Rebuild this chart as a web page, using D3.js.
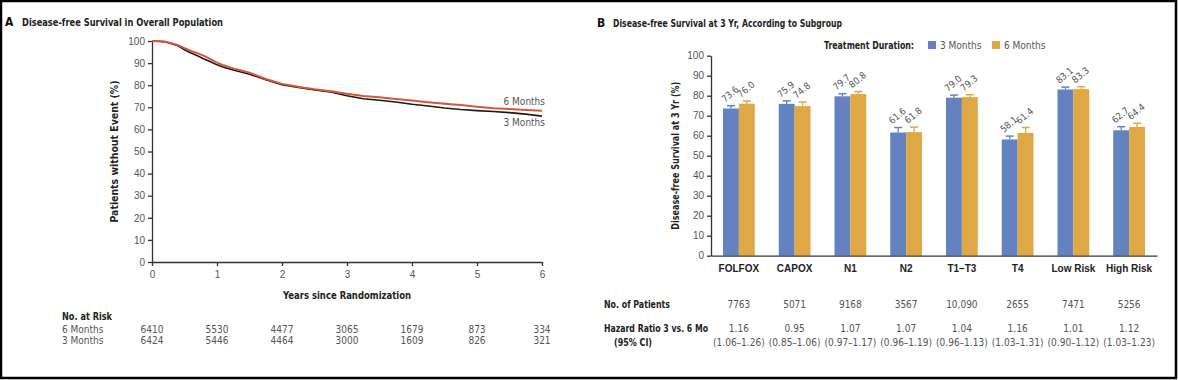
<!DOCTYPE html>
<html>
<head>
<meta charset="utf-8">
<script src="https://cdn.jsdelivr.net/npm/d3@7"></script>
<style>
  body { margin: 0; background: #fff; }
  svg { display: block; font-family: "Liberation Sans Narrow", "DejaVu Sans Condensed", "Liberation Sans", sans-serif; }
  .lbl { fill: #555; font-size: 10px; }
  .bold { fill: #222; font-weight: bold; font-size: 10px; }
  .tick text { fill: #555; font-size: 10px; }
  .domain, .tick line { stroke: #333; stroke-width: 1.3; }
</style>
</head>
<body>
<script>
// panel A : Kaplan-Meier
var kmYears = [0, 0.1, 0.2, 0.3, 0.4, 0.5, 0.6, 0.7, 0.8, 0.9, 1.0, 1.1, 1.25, 1.5, 1.75, 2.0, 2.25, 2.5, 2.75, 3.0, 3.25, 3.5, 3.75, 4.0, 4.25, 4.5, 4.75, 5.0, 5.25, 5.5, 5.75, 6.0];
var sixMonths = [100, 99.9, 99.6, 99.0, 98.1, 96.8, 95.5, 94.5, 93.3, 91.8, 90.2, 89.0, 87.6, 85.6, 82.8, 80.6, 79.3, 78.2, 77.3, 76.1, 75.1, 74.5, 73.8, 73.1, 72.3, 71.6, 71.0, 70.3, 69.6, 69.2, 68.8, 68.4];
var threeMonths = [100, 99.9, 99.7, 98.8, 97.8, 96.0, 94.6, 93.3, 91.9, 90.6, 89.2, 88.1, 86.9, 85.0, 82.5, 80.2, 79.0, 77.9, 76.9, 75.2, 73.9, 73.2, 72.4, 71.4, 70.6, 69.7, 69.0, 68.5, 68.1, 67.6, 66.9, 66.0];
var riskYears = [0, 1, 2, 3, 4, 5, 6];
var riskSix = [6410, 5530, 4477, 3065, 1679, 873, 334];
var riskThree = [6424, 5446, 4464, 3000, 1609, 826, 321];

// panel B : 3-yr DFS by subgroup
var subgroups = ["FOLFOX", "CAPOX", "N1", "N2", "T1\u2013T3", "T4", "Low Risk", "High Risk"];
var dfs3 = [73.6, 75.9, 79.7, 61.6, 79.0, 58.1, 83.1, 62.7];
var dfs6 = [76.0, 74.8, 80.8, 61.8, 79.3, 61.4, 83.3, 64.4];
var upper3 = [75.0, 77.4, 81.0, 64.1, 80.3, 59.8, 84.3, 64.5];
var upper6 = [77.3, 76.8, 82.1, 64.3, 80.5, 64.1, 84.5, 66.2];
var patients = ["7763", "5071", "9168", "3567", "10,090", "2655", "7471", "5256"];
var hazard = ["1.16", "0.95", "1.07", "1.07", "1.04", "1.16", "1.01", "1.12"];
var hazardCI = ["(1.06\u20131.26)", "(0.85\u20131.06)", "(0.97\u20131.17)", "(0.96\u20131.19)", "(0.96\u20131.13)", "(1.03\u20131.31)", "(0.90\u20131.12)", "(1.03\u20131.23)"];

var blue = "#6582c0", gold = "#dfa845", red = "#d4573a";

var svg = d3.select("body").append("svg")
    .attr("width", 1179)
    .attr("height", 380);

// outer frame
svg.append("rect")
    .attr("x", 1).attr("y", 1)
    .attr("width", 1175).attr("height", 377)
    .attr("fill", "none").attr("stroke", "#000").attr("stroke-width", 2.5);

// narrow bold text helper (the original face is condensed)
function boldText(x, y, str, len, anchor) {
  var t = svg.append("text").attr("class", "bold").attr("x", x).attr("y", y).text(str);
  if (len) t.attr("textLength", len).attr("lengthAdjust", "spacingAndGlyphs");
  if (anchor) t.attr("text-anchor", anchor);
  return t;
}

// ---------- Panel A ----------
svg.append("text").attr("x", 5).attr("y", 26)
    .style("font-weight", "bold").style("font-size", "12px").attr("fill", "#111").text("A");
boldText(22, 26, "Disease-free Survival in Overall Population", 201).style("font-size", "11px");

var xA = d3.scaleLinear().domain([0, 6]).range([152, 542]);
var yA = d3.scaleLinear().domain([0, 100]).range([262, 41]);

svg.append("g").attr("transform", "translate(0,262)")
    .call(d3.axisBottom(xA).tickValues(riskYears).tickFormat(d3.format("d"))
      .tickSize(4).tickSizeOuter(0).tickPadding(5));
svg.append("g").attr("transform", "translate(152,0)")
    .call(d3.axisLeft(yA).ticks(10).tickSize(4).tickSizeOuter(0).tickPadding(3));

svg.append("text").attr("class", "bold")
    .attr("transform", "translate(118," + yA(50) + ") rotate(-90)")
    .attr("text-anchor", "middle")
    .attr("textLength", 142).attr("lengthAdjust", "spacingAndGlyphs")
    .text("Patients without Event (%)");
boldText(xA(3), 299, "Years since Randomization", 128, "middle");

var kmLine = function (vals) {
  return d3.line()
      .x(function (d, i) { return xA(kmYears[i]); })
      .y(function (d) { return yA(d); })(vals);
};
svg.append("path").attr("d", kmLine(threeMonths))
    .attr("fill", "none").attr("stroke", "#1a1a1a").attr("stroke-width", 1.6);
svg.append("path").attr("d", kmLine(sixMonths))
    .attr("fill", "none").attr("stroke", red).attr("stroke-width", 2);

svg.append("text").attr("class", "lbl").attr("x", 545).attr("y", 105)
    .attr("text-anchor", "end").text("6 Months");
svg.append("text").attr("class", "lbl").attr("x", 545).attr("y", 126)
    .attr("text-anchor", "end").text("3 Months");

// number at risk
boldText(62, 320, "No. at Risk", 50);
[["6 Months", riskSix, 333], ["3 Months", riskThree, 344]].forEach(function (row) {
  svg.append("text").attr("class", "lbl").attr("x", 62).attr("y", row[2]).text(row[0]);
  svg.selectAll(null).data(row[1]).enter().append("text")
      .attr("class", "lbl")
      .attr("x", function (d, i) { return xA(riskYears[i]); })
      .attr("y", row[2])
      .attr("text-anchor", "middle")
      .text(function (d) { return d; });
});

// ---------- Panel B ----------
svg.append("text").attr("x", 597).attr("y", 27)
    .style("font-weight", "bold").style("font-size", "12px").attr("fill", "#111").text("B");
boldText(613, 27, "Disease-free Survival at 3 Yr, According to Subgroup", 229).style("font-size", "11px");

// legend
boldText(914, 49, "Treatment Duration:", 90, "end");
[[blue, "3 Months", 928], [gold, "6 Months", 992]].forEach(function (l) {
  svg.append("rect").attr("x", l[2]).attr("y", 41).attr("width", 8).attr("height", 8).attr("fill", l[0]);
  svg.append("text").attr("class", "lbl").attr("x", l[2] + 12).attr("y", 49).text(l[1]);
});

var xB = d3.scaleBand().domain(subgroups).range([711, 1157]).paddingInner(0.43).paddingOuter(0.215);
var yB = d3.scaleLinear().domain([0, 100]).range([255.7, 55.7]);
var bw = xB.bandwidth() / 2;

svg.append("g").attr("transform", "translate(711,0)")
    .call(d3.axisLeft(yB).ticks(10).tickSize(4).tickSizeOuter(0).tickPadding(3));

svg.append("text").attr("class", "bold")
    .attr("transform", "translate(679," + yB(50) + ") rotate(-90)")
    .attr("text-anchor", "middle")
    .attr("textLength", 148).attr("lengthAdjust", "spacingAndGlyphs")
    .text("Disease-free Survival at 3 Yr (%)");

var series = [
  { vals: dfs3, upper: upper3, color: blue, off: 0 },
  { vals: dfs6, upper: upper6, color: gold, off: bw }
];

series.forEach(function (s) {
  var g = svg.append("g");
  // error bars (upper half)
  g.selectAll("line.err").data(s.vals).enter().append("line")
      .attr("x1", function (d, i) { return xB(subgroups[i]) + s.off + bw / 2; })
      .attr("x2", function (d, i) { return xB(subgroups[i]) + s.off + bw / 2; })
      .attr("y1", function (d) { return yB(d); })
      .attr("y2", function (d, i) { return yB(s.upper[i]); })
      .attr("stroke", s.color).attr("stroke-width", 1.3);
  g.selectAll("line.cap").data(s.upper).enter().append("line")
      .attr("x1", function (d, i) { return xB(subgroups[i]) + s.off + bw / 2 - 4; })
      .attr("x2", function (d, i) { return xB(subgroups[i]) + s.off + bw / 2 + 4; })
      .attr("y1", function (d) { return yB(d); })
      .attr("y2", function (d) { return yB(d); })
      .attr("stroke", s.color).attr("stroke-width", 1.5);
  g.selectAll("rect").data(s.vals).enter().append("rect")
      .attr("x", function (d, i) { return xB(subgroups[i]) + s.off; })
      .attr("y", function (d) { return yB(d); })
      .attr("width", bw)
      .attr("height", function (d) { return yB(0) - yB(d); })
      .attr("fill", s.color);
  g.selectAll("text").data(s.vals).enter().append("text")
      .attr("class", "lbl")
      .style("font-size", "9.5px")
      .attr("transform", function (d, i) {
        var x = xB(subgroups[i]) + s.off + bw / 2 - 6;
        var y = yB(s.upper[i]) - 3;
        return "translate(" + x + "," + y + ") rotate(-40)";
      })
      .text(function (d) { return d.toFixed(1); });
});

// baseline
svg.append("g").attr("transform", "translate(0,255.7)")
    .call(d3.axisBottom(xB).tickSize(0).tickPadding(9))
    .selectAll("text").attr("class", "bold").style("fill", "#222").style("font-weight", "bold");

// table under panel B
boldText(604, 308, "No. of Patients", 66);
boldText(604, 332, "Hazard Ratio 3 vs. 6 Mo", 104);
boldText(614, 346, "(95% CI)", 38);

[[patients, 308], [hazard, 332], [hazardCI, 346]].forEach(function (row) {
  svg.selectAll(null).data(row[0]).enter().append("text")
      .attr("class", "lbl")
      .attr("x", function (d, i) { return xB(subgroups[i]) + xB.bandwidth() / 2; })
      .attr("y", row[1])
      .attr("text-anchor", "middle")
      .text(function (d) { return d; });
});
</script>
</body>
</html>
